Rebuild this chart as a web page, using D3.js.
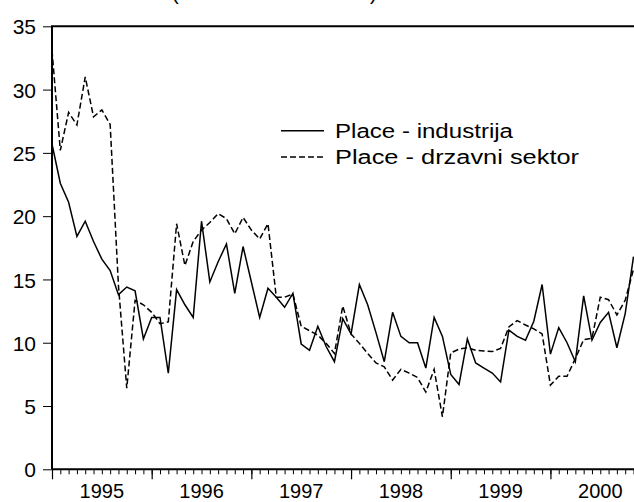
<!DOCTYPE html>
<html>
<head>
<meta charset="utf-8">
<script src="https://cdn.jsdelivr.net/npm/d3@7"></script>
<style>
  body { margin: 0; background: #fff; }
  svg text { font-family: "Liberation Sans", Arial, sans-serif; fill: #000; }
</style>
</head>
<body id="body">
<script>
// mjesecni podaci, sij 1995 - stu 2000
var years = [1995, 1996, 1997, 1998, 1999, 2000];
var yTicks = [0, 5, 10, 15, 20, 25, 30, 35];
var seriesNames = ["Place - industrija", "Place - drzavni sektor"];

var industrija = [25.7, 22.6, 21.1, 18.4, 19.6, 18.0, 16.6, 15.7, 13.8, 14.4,
    14.1, 10.3, 12.0, 12.0, 7.6, 14.2, 13.0, 12.0, 19.6, 14.8,
    16.4, 17.8, 13.9, 17.6, 14.8, 12.0, 14.3, 13.6, 12.8, 13.9,
    9.9, 9.4, 11.3, 9.7, 8.5, 11.9, 10.7, 14.6, 13.0, 10.8,
    8.5, 12.4, 10.5, 10.0, 10.0, 8.0, 12.0, 10.5, 7.5, 6.7,
    10.3, 8.4, 8.0, 7.6, 6.9, 11.0, 10.5, 10.2, 11.7, 14.6,
    9.1, 11.2, 10.0, 8.5, 13.7, 10.2, 11.6, 12.4, 9.6, 12.3,
    16.8];

var drzavni = [33.1, 25.2, 28.2, 27.2, 31.0, 27.85, 28.4, 27.25, 14.5, 6.4,
    13.35, 13.0, 12.4, 11.5, 11.65, 19.4, 16.1, 18.0, 18.9, 19.5,
    20.2, 19.8, 18.6, 19.9, 18.9, 18.2, 19.4, 13.6, 13.6, 13.85,
    11.3, 10.95, 10.6, 9.95, 9.15, 12.9, 10.7, 9.95, 9.15, 8.4,
    8.1, 7.05, 7.9, 7.6, 7.25, 6.1, 7.9, 4.15, 9.2, 9.5,
    9.6, 9.4, 9.35, 9.3, 9.55, 11.25, 11.75, 11.4, 11.1, 10.7,
    6.65, 7.35, 7.35, 8.75, 10.25, 10.35, 13.6, 13.4, 12.2, 13.35,
    15.8];

function RenderChart() {
    var width = 634,
        height = 502,
        plotLeft = 52,
        plotTop = 26.3,
        plotBottom = 469.3;

    var n = industrija.length;

    var x = d3.scaleLinear()
        .domain([0, n - 1])
        .range([plotLeft, 633.5]);

    var y = d3.scaleLinear()
        .domain([0, 35])
        .range([plotBottom, plotTop]);

    var svg = d3.select("body").append("svg")
        .attr("width", width)
        .attr("height", height);

    // naslov (odrezan na vrhu)
    svg.append("text").attr("x", 172).attr("y", 0).style("font-size", "20px").text("(");
    svg.append("text").attr("x", 370).attr("y", 0).style("font-size", "20px").text(")");

    // y os
    var gy = svg.append("g")
        .attr("transform", "translate(" + plotLeft + ",0)")
        .call(d3.axisLeft(y).tickValues(yTicks).tickSize(9).tickPadding(7));
    gy.select(".domain").remove();
    gy.selectAll("line").attr("stroke", "#000").attr("stroke-width", 1);
    gy.selectAll("text").style("font-size", "21px").attr("dy", "0.36em");

    // mjesecne crtice
    var gm = svg.append("g")
        .attr("transform", "translate(0," + plotBottom + ")")
        .call(d3.axisBottom(x).tickValues(d3.range(n)).tickSize(5).tickFormat(""));
    gm.select(".domain").remove();
    gm.selectAll("line").attr("stroke", "#000").attr("stroke-width", 1);

    // godisnje crtice
    var yearStarts = years.map(function (d, i) { return i * 12; });
    var gyr = svg.append("g")
        .attr("transform", "translate(0," + plotBottom + ")")
        .call(d3.axisBottom(x).tickValues(yearStarts).tickSize(10).tickFormat(""));
    gyr.select(".domain").remove();
    gyr.selectAll("line").attr("stroke", "#000").attr("stroke-width", 1.2);

    // oznake godina, na sredini godine
    svg.selectAll(".yearlabel")
        .data(years)
        .enter().append("text")
        .attr("class", "yearlabel")
        .attr("x", function (d, i) { return x(i * 12 + 6); })
        .attr("y", 498)
        .attr("text-anchor", "middle")
        .style("font-size", "20px")
        .text(function (d) { return d; });

    var line = d3.line()
        .x(function (d, i) { return x(i); })
        .y(function (d) { return y(d); });

    svg.append("path")
        .datum(drzavni)
        .attr("d", line)
        .attr("fill", "none")
        .attr("stroke", "#000")
        .attr("stroke-width", 1.5)
        .attr("stroke-dasharray", "6,3");

    svg.append("path")
        .datum(industrija)
        .attr("d", line)
        .attr("fill", "none")
        .attr("stroke", "#000")
        .attr("stroke-width", 1.5);

    // okvir
    svg.append("path")
        .attr("d", "M" + plotLeft + "," + plotBottom + "V" + plotTop + "H" + width)
        .attr("fill", "none")
        .attr("stroke", "#000")
        .attr("stroke-width", 2);
    svg.append("line")
        .attr("x1", plotLeft).attr("x2", width)
        .attr("y1", plotBottom).attr("y2", plotBottom)
        .attr("stroke", "#000")
        .attr("stroke-width", 2);

    // legenda
    var legend = svg.append("g");
    var rows = [{ name: seriesNames[0], dash: null, ly: 130.7, len: 178 },
                { name: seriesNames[1], dash: "6,3", ly: 157, len: 244 }];
    rows.forEach(function (r) {
        legend.append("line")
            .attr("x1", 281).attr("x2", 324)
            .attr("y1", r.ly).attr("y2", r.ly)
            .attr("stroke", "#000")
            .attr("stroke-width", 1.5)
            .attr("stroke-dasharray", r.dash);
        legend.append("text")
            .attr("x", 335)
            .attr("y", r.ly + 7)
            .attr("textLength", r.len)
            .attr("lengthAdjust", "spacingAndGlyphs")
            .style("font-size", "20px")
            .text(r.name);
    });
}

RenderChart();
</script>
</body>
</html>
